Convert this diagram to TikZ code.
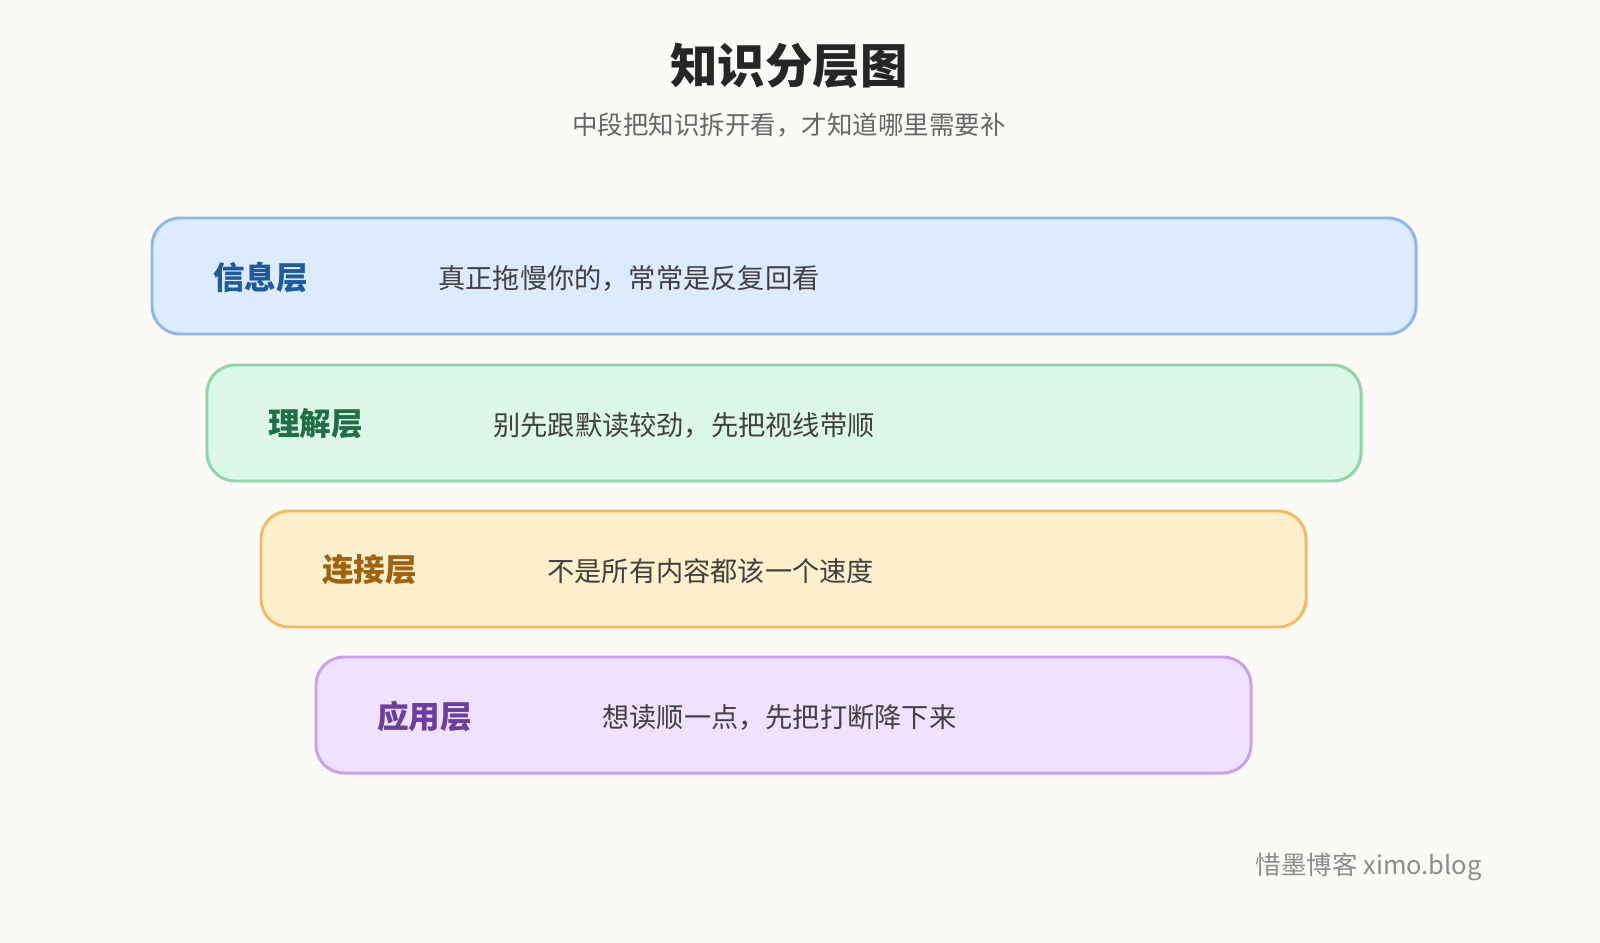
\documentclass[tikz,border=0pt]{standalone}
\usepackage{fontspec}
\setmainfont{Noto Sans CJK SC}
\usetikzlibrary{positioning}
\definecolor{bgc}{HTML}{FBFAF6}
\definecolor{infoF}{HTML}{DCEBFE}\definecolor{infoD}{HTML}{8DB8EE}\definecolor{infoT}{HTML}{1E5AA0}
\definecolor{undF}{HTML}{DDF7E8}\definecolor{undD}{HTML}{8ED6A9}\definecolor{undT}{HTML}{1F7045}
\definecolor{conF}{HTML}{FEF0CC}\definecolor{conD}{HTML}{F0BD5E}\definecolor{conT}{HTML}{A0620F}
\definecolor{appF}{HTML}{F0E2FE}\definecolor{appD}{HTML}{C7A2EE}\definecolor{appT}{HTML}{6B3FA0}
\begin{document}
\begin{tikzpicture}[x=0.02cm, y=-0.02cm, %
      layer/.style={rounded corners=0.56cm, line width=1.7pt}, %
      lab/.style={anchor=west, font=\fontsize{18}{20}\selectfont\bfseries, inner sep=0pt}, %
      desc/.style={anchor=west, font=\fontsize{15.5}{18}\selectfont, text=black!75, inner sep=0pt}, %
      ]
    \fill[bgc] (0,0) rectangle (1600,943);

    \node[font=\fontsize{27}{30}\selectfont\bfseries, text=black!85] (title) at (789,66) {知识分层图};
    \node[font=\fontsize{14.5}{16}\selectfont, text=black!60] (sub) at (789,125) {中段把知识拆开看，才知道哪里需要补};

    \foreach \a/\xl/\xr/\yt/\col/\lab/\txt in { %
      info/152/1416/218/info/信息层/{真正拖慢你的，常常是反复回看},%
      und/207/1361/365/und/理解层/{别先跟默读较劲，先把视线带顺},%
      con/261/1306/511/con/连接层/{不是所有内容都该一个速度},%
      app/316/1251/657/app/应用层/{想读顺一点，先把打断降下来}%
    }{ %
      \draw[layer, fill=\col F, draw=\col D] (\xl,\yt) rectangle (\xr,\yt+116);
      \node[lab, text=\col T] (\a) at (\xl+61,\yt+59) {\lab};
      \node[desc] (\a d) at (\xl+286,\yt+60) {\txt};
    }

    \node[anchor=east, font=\fontsize{14.5}{16}\selectfont, text=black!45, inner sep=0pt] (mark) at (1482,867) {惜墨博客 ximo.blog};
\end{tikzpicture}
\end{document}
